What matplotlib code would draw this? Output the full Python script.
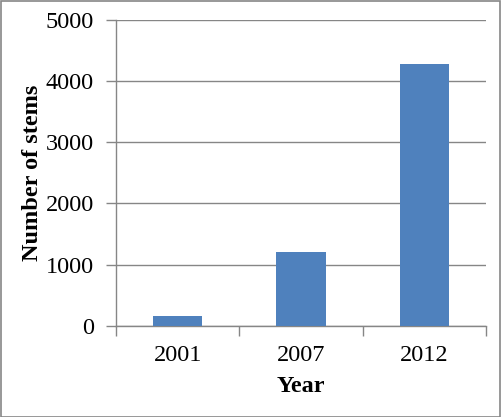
import matplotlib.pyplot as plt
from matplotlib.patches import Rectangle

years = ["2001", "2007", "2012"]
stems = [165, 1210, 4280]
y_ticks = [0, 1000, 2000, 3000, 4000, 5000]

plt.rcParams['font.family'] = ['Liberation Serif', 'DejaVu Serif']
grey = '#868686'
fs = 17.5

fig = plt.figure(figsize=(5.01, 4.17), dpi=100)
ax = fig.add_axes([116 / 501, 1 - 326 / 417, 370 / 501, 306.5 / 417])

x = range(len(years))
ax.bar(x, stems, width=0.4, color='#4f81bd', zorder=3)

ax.set_xlim(-0.5, len(years) - 0.5)
ax.set_ylim(0, 5000)
ax.set_yticks(y_ticks)
ax.set_yticklabels([str(v) for v in y_ticks], fontsize=fs)
ax.set_xticks(list(x))
ax.set_xticklabels(years, fontsize=fs)
ax.tick_params(axis='x', length=0, pad=14)
ax.tick_params(axis='y', length=7, color=grey, width=1, pad=9)
# category boundary ticks on the x axis
ax.set_xticks([-0.5, 0.5, 1.5, 2.5], minor=True)
ax.tick_params(axis='x', which='minor', length=7, color=grey, width=1)

ax.grid(axis='y', color=grey, linewidth=1, zorder=0)
for side in ['top', 'right']:
    ax.spines[side].set_visible(False)
for side in ['left', 'bottom']:
    ax.spines[side].set_color(grey)
    ax.spines[side].set_linewidth(1)

ax.set_ylabel("Number of stems", fontsize=fs, fontweight='bold', labelpad=2)
ax.set_xlabel("Year", fontsize=fs, fontweight='bold', labelpad=7)

fig.patches.append(Rectangle((0.001, 0.001), 0.997, 0.997, transform=fig.transFigure,
                             fill=False, edgecolor=grey, linewidth=1.2))

fig.savefig("out.png", dpi=100)
